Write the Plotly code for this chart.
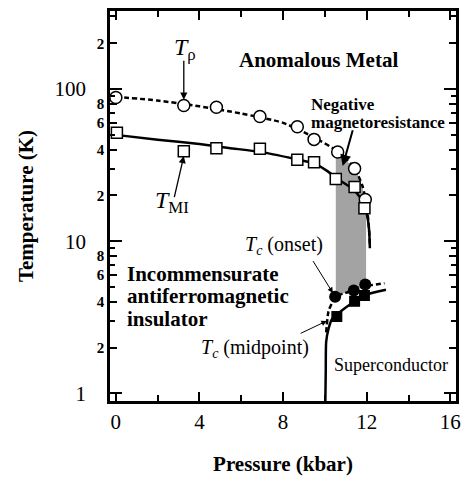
import numpy as np
import plotly.graph_objects as go

# ---- data ----
# T_rho (open circles)
p_rho = [0.0, 3.25, 4.81, 6.89, 8.68, 9.48, 10.61, 11.42, 11.93]
t_rho = [88, 78, 76, 66, 56.5, 46.7, 38.6, 30.0, 18.8]
# T_MI (open squares)
p_mi = [0.05, 3.25, 4.81, 6.89, 8.68, 9.48, 10.52, 11.42, 11.89]
t_mi = [51.6, 39, 40.9, 40.5, 34.3, 33, 25.6, 22.7, 16.5]
# Tc onset (filled circles)
p_on = [10.49, 11.38, 11.93]
t_on = [4.31, 4.75, 5.19]
# Tc midpoint (filled squares)
p_mid = [10.57, 11.42, 11.89]
t_mid = [3.2, 4.03, 4.4]

# guide curves
rho_curve_p = [0, 2, 4, 6, 8, 9.5, 10.6, 11.4, 11.8, 12.0, 12.1, 12.15]
rho_curve_t = [89, 84, 77, 69, 60, 48, 39, 30.5, 23, 17, 12.5, 9.5]
mi_curve_p = [0, 2, 4, 5.4, 7, 8.7, 9.5, 10.1, 10.6, 11.4, 11.85, 12.05, 12.12, 12.15]
mi_curve_t = [50, 46.5, 43.5, 41, 38.5, 34.4, 32.5, 29, 25.7, 21.7, 17.8, 14, 11.5, 9]
sc_mid_p = [10.02, 10.04, 10.06, 10.17, 10.33, 10.57, 11.27, 11.9, 12.92]
sc_mid_t = [0.89, 1.4, 2.18, 2.65, 3.06, 3.3, 3.9, 4.42, 4.8]
sc_on_p = [10.06, 10.17, 10.33, 10.49, 10.88, 11.38, 11.9, 12.85]
sc_on_t = [2.52, 3.46, 3.91, 4.31, 4.53, 4.75, 5.05, 5.3]

# negative magnetoresistance region
shade_top_p = [10.52, 10.8, 11.1, 11.42, 11.7, 11.97]
shade_top_t = [37.5, 35.5, 33, 30, 25, 18]
shade_bot_p = [11.97, 11.4, 10.9, 10.52]
shade_bot_t = [5.15, 4.75, 4.55, 4.35]

x_ticks = [0, 4, 8, 12, 16]
x_minor = [2, 6, 10, 14]
y_major = [1, 10, 100]
y_mid = [2, 4, 6, 8, 20, 40, 60, 80, 200]
y_minor = [3, 5, 7, 9, 30, 50, 70, 90, 300]

FONT = "Liberation Serif"
L = np.log10
YR = [-0.05, 2.513]

fig = go.Figure()

fig.add_trace(go.Scatter(
    x=shade_top_p + shade_bot_p, y=shade_top_t + shade_bot_t,
    fill="toself", fillcolor="#a3a3a3", mode="none", yaxis="y2",
    hoverinfo="skip"))

for px, pt, dash in [(rho_curve_p, rho_curve_t, "5px,3px"),
                     (mi_curve_p, mi_curve_t, "solid"),
                     (sc_mid_p, sc_mid_t, "solid"),
                     (sc_on_p, sc_on_t, "5px,3px")]:
    fig.add_trace(go.Scatter(x=px, y=pt, mode="lines", yaxis="y2",
                             line=dict(color="black", width=2.5, dash=dash,
                                       shape="spline", smoothing=0.6)))

fig.add_trace(go.Scatter(x=p_rho, y=t_rho, mode="markers", yaxis="y2",
                         marker=dict(symbol="circle", size=12, color="white",
                                     line=dict(color="black", width=1.5))))
fig.add_trace(go.Scatter(x=p_mi, y=t_mi, mode="markers", yaxis="y2",
                         marker=dict(symbol="square", size=11, color="white",
                                     line=dict(color="black", width=1.5))))
fig.add_trace(go.Scatter(x=p_on, y=t_on, mode="markers", yaxis="y2",
                         marker=dict(symbol="circle", size=12, color="black")))
fig.add_trace(go.Scatter(x=p_mid, y=t_mid, mode="markers", yaxis="y2",
                         marker=dict(symbol="square", size=11, color="black")))

ann = []

def text(x, y, s, size, xanchor="center", bold=False):
    if bold:
        s = "<b>" + s + "</b>"
    ann.append(dict(x=x, y=L(y), xref="x", yref="y", text=s, showarrow=False,
                    xanchor=xanchor, yanchor="middle",
                    font=dict(family=FONT, size=size, color="black")))

def arrow(x0, y0, x1, y1, w):
    ann.append(dict(x=x1, y=L(y1), ax=x0, ay=L(y0), xref="x", yref="y",
                    axref="x", ayref="y", text="", showarrow=True,
                    arrowhead=2, arrowsize=1.1, arrowwidth=w,
                    arrowcolor="black", standoff=0, startstandoff=0))

text(9.67, 10 ** 2.191, "Anomalous Metal", 21, bold=True)
text(9.25, 10 ** 1.898, "Negative", 17, xanchor="left", bold=True)
text(9.25, 10 ** 1.777, "magnetoresistance", 17, xanchor="left", bold=True)
text(0.45, 10 ** 0.786, "Incommensurate", 21, xanchor="left", bold=True)
text(0.45, 10 ** 0.637, "antiferromagnetic", 21, xanchor="left", bold=True)
text(0.45, 10 ** 0.487, "insulator", 21, xanchor="left", bold=True)
text(13.14, 10 ** 0.185, "Superconductor", 18)
text(8.02, 10 ** 0.975, "<i>T</i><sub><i>c</i></sub> (onset)", 20)
text(6.65, 10 ** 0.293, "<i>T</i><sub><i>c</i></sub> (midpoint)", 20)
text(3.3, 10 ** 2.261, "<i>T</i><sub>ρ</sub>", 24)
text(2.7, 10 ** 1.255, "<i>T</i><sub>MI</sub>", 24)

arrow(3.25, 10 ** 2.196, 3.25, 10 ** 1.93, 1.3)
arrow(2.78, 10 ** 1.28, 3.25, 10 ** 1.56, 1.3)
arrow(11.35, 10 ** 1.739, 10.85, 10 ** 1.495, 2)
arrow(9.39, 10 ** 0.879, 10.38, 10 ** 0.66, 1)
arrow(8.77, 10 ** 0.39, 10.09, 10 ** 0.476, 1)

axis_common = dict(showline=True, linewidth=2.5, linecolor="black",
                   mirror="ticks", showgrid=False, zeroline=False,
                   ticks="inside", tickcolor="black")

fig.update_layout(
    width=469, height=481,
    margin=dict(l=110, r=8, t=9, b=70),
    plot_bgcolor="white", paper_bgcolor="white",
    showlegend=False,
    font=dict(family=FONT, color="black"),
    annotations=ann,
    xaxis=dict(range=[-0.28, 16.27], tickmode="array", tickvals=x_ticks,
               ticktext=[str(v) for v in x_ticks], ticklen=9, tickwidth=2,
               tickfont=dict(family=FONT, size=21),
               minor=dict(tickmode="array", tickvals=x_minor, ticklen=6,
                          tickwidth=2, ticks="inside", tickcolor="black"),
               title=dict(text="<b>Pressure (kbar)</b>",
                          font=dict(family=FONT, size=21), standoff=24),
               **axis_common),
    yaxis=dict(type="log", range=YR, tickmode="array", tickvals=y_mid,
               ticktext=["<b>%d</b>" % int(str(v)[0]) for v in y_mid],
               ticklen=7, tickwidth=2, ticklabelstandoff=0,
               tickfont=dict(family=FONT, size=15),
               minor=dict(tickmode="array", tickvals=y_minor, ticklen=5,
                          tickwidth=2, ticks="inside", tickcolor="black"),
               **axis_common),
    yaxis2=dict(type="log", range=YR, overlaying="y", side="left",
                tickmode="array", tickvals=y_major,
                ticktext=[str(v) for v in y_major],
                ticklen=12, tickwidth=2, ticklabelstandoff=17,
                tickfont=dict(family=FONT, size=21),
                title=dict(text="<b>Temperature (K)</b>",
                           font=dict(family=FONT, size=21), standoff=16),
                **axis_common),
)

fig.write_html("out.html")
